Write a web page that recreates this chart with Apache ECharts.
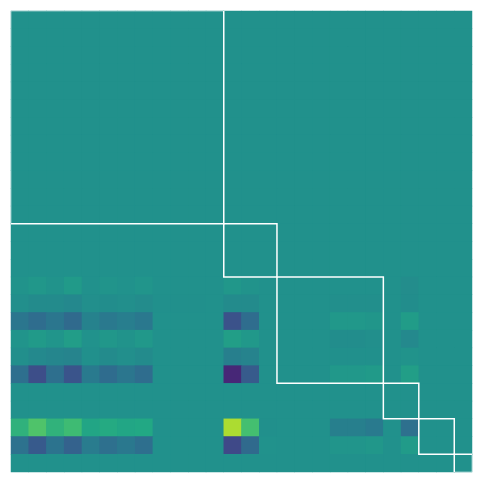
<!DOCTYPE html>
<html>
<head>
<meta charset="utf-8">
<script src="https://cdn.jsdelivr.net/npm/echarts@6/dist/echarts.min.js"></script>
<style>html,body{margin:0;padding:0;background:#fff;}#chart{width:481px;height:482px;}</style>
</head>
<body>
<div id="chart"></div>
<script>
// 26 x 26 matrix, row/column labels
const labels = ['0','1','2','3','4','5','6','7','8','9','10','11','12','13','14','15','16','17','18','19','20','21','22','23','24','25'];

// uniform rows (rows 0-14, 21, 22, 25)
const uniformRow = [0.5,0.5,0.5,0.5,0.5,0.5,0.5,0.5,0.5,0.5,0.5,0.5,0.5,0.5,0.5,0.5,0.5,0.5,0.5,0.5,0.5,0.5,0.5,0.5,0.5,0.5];

const row15 = [0.51,0.526,0.51,0.539,0.5,0.513,0.505,0.517, 0.5,0.5,0.5,0.5, 0.526,0.51,0.5, 0.5,0.5,0.5, 0.5,0.5,0.5, 0.5,0.482, 0.5,0.5,0.5];
const row16 = [0.49,0.476,0.476,0.464,0.49,0.484,0.49,0.48, 0.495,0.495,0.495,0.5, 0.476,0.476,0.5, 0.5,0.5,0.5, 0.49,0.49,0.49, 0.5,0.485, 0.5,0.5,0.5];
const row17 = [0.39,0.355,0.39,0.345,0.44,0.405,0.425,0.4, 0.5,0.5,0.5,0.5, 0.25,0.355,0.5, 0.5,0.5,0.5, 0.53,0.53,0.52, 0.5,0.548, 0.5,0.5,0.5];
const row18 = [0.513,0.539,0.517,0.552,0.505,0.526,0.51,0.53, 0.5,0.5,0.5,0.5, 0.557,0.53,0.5, 0.5,0.5,0.5, 0.484,0.484,0.49, 0.5,0.47, 0.5,0.5,0.5];
const row19 = [0.49,0.468,0.456,0.448,0.496,0.476,0.49,0.476, 0.5,0.5,0.5,0.5, 0.428,0.444,0.5, 0.5,0.5,0.5, 0.497,0.497,0.497, 0.5,0.51, 0.5,0.5,0.5];
const row20 = [0.364,0.237,0.364,0.259,0.408,0.352,0.393,0.356, 0.5,0.5,0.5,0.5, 0.11,0.285,0.5, 0.5,0.5,0.5, 0.53,0.53,0.54, 0.5,0.557, 0.5,0.5,0.5];
const row23 = [0.64,0.72,0.643,0.683,0.587,0.609,0.59,0.6, 0.5,0.5,0.5,0.5, 0.875,0.7,0.495, 0.5,0.5,0.5, 0.428,0.428,0.408, 0.5,0.368, 0.5,0.5,0.5];
const row24 = [0.376,0.281,0.38,0.31,0.416,0.368,0.4,0.364, 0.5,0.5,0.5,0.5, 0.22,0.345,0.505, 0.5,0.5,0.5, 0.517,0.517,0.526, 0.5,0.543, 0.5,0.5,0.5];

const matrixRows = [
  uniformRow, uniformRow, uniformRow, uniformRow, uniformRow, uniformRow, uniformRow,
  uniformRow, uniformRow, uniformRow, uniformRow, uniformRow, uniformRow, uniformRow, uniformRow,
  row15, row16, row17, row18, row19, row20,
  uniformRow, uniformRow,
  row23, row24,
  uniformRow
];

// diagonal block boundaries [first index, last index]
const blocks = [[0,11],[12,14],[15,20],[21,22],[23,24],[25,25]];

const viridis = ['#440154','#482475','#414487','#355f8d','#2a788e','#21918c','#22a884','#44bf70','#7ad151','#bddf26','#fde725'];

const heatData = [];
matrixRows.forEach(function(row, r){
  row.forEach(function(v, c){ heatData.push([c, r, v]); });
});

const chart = echarts.init(document.getElementById('chart'), null, {renderer:'canvas'});
chart.setOption({
  animation: false,
  grid: {left: 11, top: 11, width: 461, height: 461, show: true, backgroundColor: '#21918c', borderWidth: 0},
  xAxis: {type: 'category', data: labels, show: false},
  yAxis: {type: 'category', data: labels, inverse: true, show: false},
  visualMap: {show: false, min: 0, max: 1, calculable: false, seriesIndex: 0, inRange: {color: viridis}},
  series: [
    {
      type: 'heatmap',
      data: heatData,
      itemStyle: {borderWidth: 0},
      emphasis: {disabled: true}
    },
    {
      type: 'custom',
      data: blocks,
      clip: true,
      z: 10,
      renderItem: function(params, api){
        const cs = params.coordSys;
        const s = api.value(0), e = api.value(1);
        const p0 = api.coord([s, s]);
        const p1 = api.coord([e, e]);
        const size = api.size([1, 1]);
        let xa = Math.min(p0[0], p1[0]) - size[0]/2;
        let xb = Math.max(p0[0], p1[0]) + size[0]/2;
        let ya = Math.min(p0[1], p1[1]) - size[1]/2;
        let yb = Math.max(p0[1], p1[1]) + size[1]/2;
        // edges lying on the plot border: push out so only a faint sliver shows
        if (Math.abs(xa - cs.x) < 0.5) xa -= 0.5;
        if (Math.abs(ya - cs.y) < 0.5) ya -= 0.5;
        if (Math.abs(xb - (cs.x + cs.width)) < 0.5) xb += 0.5;
        if (Math.abs(yb - (cs.y + cs.height)) < 0.5) yb += 0.5;
        return {
          type: 'rect',
          shape: {x: xa, y: ya, width: xb - xa, height: yb - ya},
          style: {fill: null, stroke: '#ffffff', lineWidth: 1.5}
        };
      }
    }
  ]
});
</script>
</body>
</html>
